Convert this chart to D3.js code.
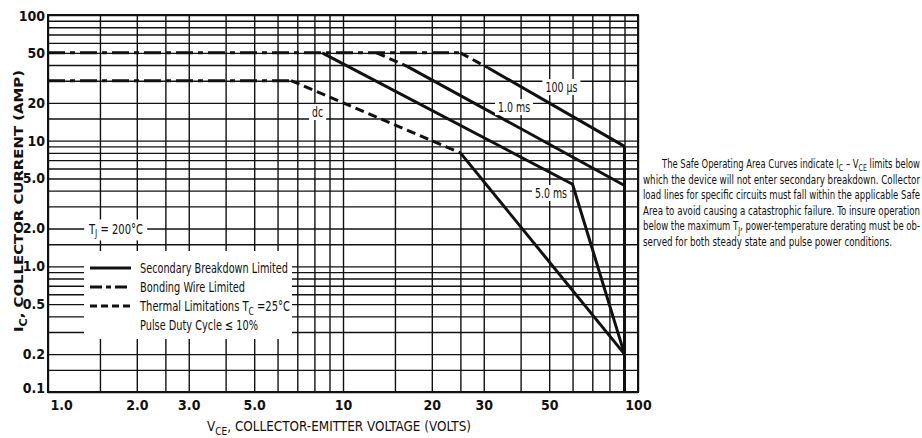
<!DOCTYPE html>
<html>
<head>
<meta charset="utf-8">
<script src="https://cdn.jsdelivr.net/npm/d3@7"></script>
<style>
body { margin: 0; background: #fff; }
text { font-family: "Liberation Sans Narrow", "DejaVu Sans Condensed", "Arial Narrow", sans-serif; fill: #111; }
</style>
</head>
<body>
<div id="chart"></div>
<script>
/* global d3 */

var w = 922,
    h = 438;

var plotL = 48, plotR = 638, plotT = 15, plotB = 392;

///////////////// axis values ////////////////
var xTicks = [1, 2, 3, 5, 10, 20, 30, 50, 100];
var xTickLabels = ["1.0", "2.0", "3.0", "5.0", "10", "20", "30", "50", "100"];
var yTicks = [100, 50, 20, 10, 5, 2, 1, 0.5, 0.2, 0.1];
var yTickLabels = ["100", "50", "20", "10", "5.0", "2.0", "1.0", "0.5", "0.2", "0.1"];
var xGrid = [1, 1.5, 2, 2.5, 3, 4, 5, 6, 7, 8, 9, 10, 15, 20, 25, 30, 40, 50, 60, 70, 80, 90, 100];
var yGrid = [0.1, 0.15, 0.2, 0.3, 0.4, 0.5, 0.6, 0.7, 0.8, 0.9,
             1, 1.5, 2, 3, 4, 5, 6, 7, 8, 9,
             10, 15, 20, 30, 40, 50, 60, 70, 80, 90, 100];

///////////////// curves (VCE volts, IC amps) ////////////////
// bonding wire limited
var bondPulse = [[1, 50], [25, 50]];
var bondDc = [[1, 30], [6.67, 30]];
// thermal limitations
var thermDc = [[6.67, 30], [25, 8]];
var therm1ms = [[13, 50], [16.5, 39]];
var therm100us = [[25, 50], [31, 38]];
// secondary breakdown limited
var sbDc = [[25, 8], [90, 0.2]];
var sb5ms = [[8.5, 50], [60, 4.5], [90, 0.2]];
var sb1ms = [[16.5, 39], [90, 4.4]];
var sb100us = [[31, 38], [90, 9]];
var sbVceo = [[90, 9], [90, 0.1]];

// curve labels and where they sit (VCE, IC)
var curveLabels = ["100 \u00b5s", "1.0 ms", "dc", "5.0 ms"];
var curveLabelAt = [[55, 26.7], [38, 18.5], [8.2, 16.9], [50.7, 3.83]];

var paragraph = [
    [["The Safe Operating Area Curves indicate I"], ["C", 1], [" \u2013 V"], ["CE", 1], [" limits below"]],
    [["which the device will not enter secondary breakdown.  Collector"]],
    [["load lines for specific circuits must fall within the applicable Safe"]],
    [["Area to avoid causing a catastrophic failure.  To insure operation"]],
    [["below the maximum T"], ["J", 1], [", power-temperature derating must be ob-"]],
    [["served for both steady state and pulse power conditions."]]
];

var dash = { solid: null, bond: "17,5,5,5", therm: "9,5" };

var x = d3.scaleLog().domain([1, 100]).range([plotL, plotR]);
var y = d3.scaleLog().domain([0.1, 100]).range([plotB, plotT]);

var svg = d3.select("#chart").append("svg")
    .attr("width", w)
    .attr("height", h)
    .style("background", "#fff");

// text with sub-scripted pieces
function richText(g, parts, size) {
    var t = g.append("text").style("font-size", size + "px");
    var down = false;
    parts.forEach(function(p) {
        var s = t.append("tspan").text(p[0]);
        if (p[1] && !down) { s.attr("dy", size * 0.28).style("font-size", (size * 0.75) + "px"); down = true; }
        else if (p[1]) { s.style("font-size", (size * 0.75) + "px"); }
        else if (!p[1] && down) { s.attr("dy", -size * 0.28); down = false; }
    });
    return t;
}

///////////////// grid ////////////////
var gx = svg.append("g")
    .attr("transform", "translate(0," + plotB + ")")
    .call(d3.axisBottom(x).tickValues(xGrid).tickSize(-(plotB - plotT)).tickFormat(""));
var gy = svg.append("g")
    .attr("transform", "translate(" + plotL + ",0)")
    .call(d3.axisLeft(y).tickValues(yGrid).tickSize(-(plotR - plotL)).tickFormat(""));
[gx, gy].forEach(function(g) {
    g.select(".domain").remove();
    g.selectAll("line").attr("stroke", "#111").attr("stroke-width", 1.4);
});

svg.append("rect")
    .attr("x", plotL).attr("y", plotT)
    .attr("width", plotR - plotL).attr("height", plotB - plotT)
    .attr("fill", "none").attr("stroke", "#111").attr("stroke-width", 2);

///////////////// tick labels ////////////////
var xl = svg.append("g")
    .attr("transform", "translate(0," + plotB + ")")
    .call(d3.axisBottom(x).tickValues(xTicks).tickSize(0).tickPadding(8)
        .tickFormat(function(d, i) { return xTickLabels[i]; }));
var yl = svg.append("g")
    .attr("transform", "translate(" + plotL + ",0)")
    .call(d3.axisLeft(y).tickValues(yTicks).tickSize(0).tickPadding(3)
        .tickFormat(function(d, i) { return yTickLabels[i]; }));
[xl, yl].forEach(function(g) {
    g.select(".domain").remove();
    g.selectAll("text")
        .attr("fill", "#111")
        .style("font-family", '"Liberation Sans Narrow", "DejaVu Sans Condensed", sans-serif')
        .style("font-size", "14px")
        .style("font-weight", "bold");
});
xl.selectAll("text").filter(function(d) { return d === 1; })
    .attr("text-anchor", "start").attr("x", 2);
yl.selectAll("text").filter(function(d) { return d === 0.1; })
    .attr("y", -4);
yl.selectAll("text").filter(function(d) { return d === 100; })
    .attr("y", 1);

///////////////// curves ////////////////
var line = d3.line()
    .x(function(d) { return x(d[0]); })
    .y(function(d) { return y(d[1]); });

var curves = [
    { pts: bondPulse, kind: "bond" },
    { pts: bondDc, kind: "bond" },
    { pts: thermDc, kind: "therm" },
    { pts: therm1ms, kind: "therm" },
    { pts: therm100us, kind: "therm" },
    { pts: sbDc, kind: "solid" },
    { pts: sb5ms, kind: "solid" },
    { pts: sb1ms, kind: "solid" },
    { pts: sb100us, kind: "solid" },
    { pts: sbVceo, kind: "solid" }
];

svg.selectAll(".curve")
    .data(curves)
    .enter().append("path")
    .attr("class", "curve")
    .attr("d", function(d) { return line(d.pts); })
    .attr("fill", "none")
    .attr("stroke", "#111")
    .attr("stroke-width", 3)
    .attr("stroke-dasharray", function(d) { return dash[d.kind]; });

///////////////// curve labels ////////////////
curveLabels.forEach(function(lbl, i) {
    var g = svg.append("g");
    var bg = g.append("rect").attr("fill", "#fff");
    var t = g.append("text")
        .attr("x", x(curveLabelAt[i][0]))
        .attr("y", y(curveLabelAt[i][1]) + 5)
        .attr("text-anchor", "middle")
        .style("font-size", "14px")
        .text(lbl);
    var bb = t.node().getBBox();
    if (bb.width > 0) {
        var f = (lbl === "dc" ? 11 : 32) / bb.width;
        t.attr("textLength", bb.width * f).attr("lengthAdjust", "spacingAndGlyphs");
        bb = t.node().getBBox();
    }
    bg.attr("x", bb.x - 3).attr("y", bb.y).attr("width", bb.width + 6).attr("height", bb.height);
});

// TJ label on the 2.0 line
var tj = svg.append("g");
var tjBg = tj.append("rect").attr("fill", "#fff");
var tjText = richText(tj, [["T"], ["J", 1], [" = 200\u00b0C"]], 14)
    .attr("x", 89).attr("y", y(2) + 5)
    .attr("textLength", 54).attr("lengthAdjust", "spacingAndGlyphs");
var tb = tjText.node().getBBox();
tjBg.attr("x", tb.x - 4).attr("y", tb.y - 1).attr("width", tb.width + 8).attr("height", tb.height + 2);

///////////////// legend ////////////////
var legend = svg.append("g");
legend.append("rect")
    .attr("x", 84).attr("y", 251).attr("width", 208).attr("height", 88)
    .attr("fill", "#fff");

var legendRows = [
    { kind: "solid", parts: [["Secondary Breakdown Limited"]], len: 148 },
    { kind: "bond", parts: [["Bonding Wire Limited"]], len: 105 },
    { kind: "therm", parts: [["Thermal Limitations T"], ["C", 1], [" =25\u00b0C"]], len: 150 },
    { kind: null, parts: [["Pulse Duty Cycle \u2264 10%"]], len: 118 }
];
legendRows.forEach(function(r, i) {
    var cy = 268 + i * 19;
    if (r.kind) {
        legend.append("line")
            .attr("x1", 90).attr("x2", 131)
            .attr("y1", cy).attr("y2", cy)
            .attr("stroke", "#111").attr("stroke-width", 3)
            .attr("stroke-dasharray", r.kind === "bond" ? "12,4,5,4" : r.kind === "therm" ? "7,4" : null);
    }
    richText(legend, r.parts, 14)
        .attr("x", 140).attr("y", cy + 5)
        .attr("textLength", r.len).attr("lengthAdjust", "spacingAndGlyphs");
});

///////////////// axis titles ////////////////
richText(svg, [["V"], ["CE", 1], [", COLLECTOR-EMITTER VOLTAGE (VOLTS)"]], 14)
    .attr("x", 207).attr("y", 431)
    .attr("textLength", 264).attr("lengthAdjust", "spacingAndGlyphs");

richText(svg, [["I"], ["C", 1], [", COLLECTOR CURRENT (AMP)"]], 13)
    .attr("transform", "translate(23,332) rotate(-90)")
    .style("font-family", '"DejaVu Sans", sans-serif')
    .style("font-weight", "bold")
    .attr("textLength", 262).attr("lengthAdjust", "spacingAndGlyphs");

///////////////// note on the right ////////////////
var lines = paragraph.map(function(p, i) {
    return richText(svg, p, 12)
        .attr("x", i === 0 ? 662 : 643)
        .attr("y", 168 + i * 15.6);
});
// squeeze like a narrow face, justify all but the last line
var natural = lines[1].node().getComputedTextLength();
var squeeze = natural > 0 ? 277 / natural : 1;
lines.forEach(function(t, i) {
    var len = i === 0 ? 258 : 277;
    if (i === lines.length - 1) len = t.node().getComputedTextLength() * squeeze;
    t.attr("textLength", len).attr("lengthAdjust", "spacingAndGlyphs");
});
</script>
</body>
</html>
